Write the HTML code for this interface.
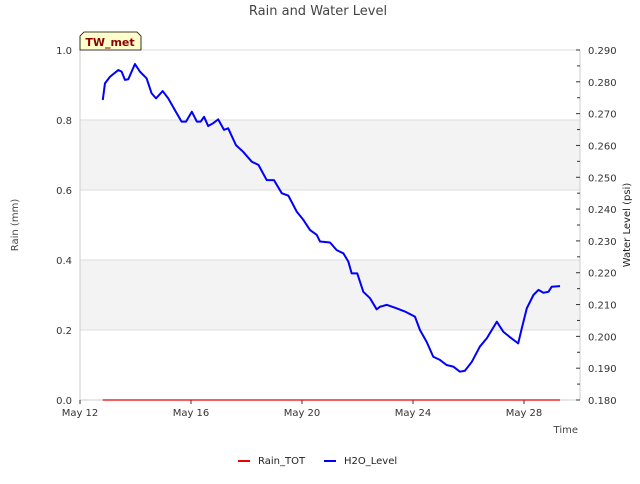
<!DOCTYPE html>
<html><head><meta charset="utf-8"><style>
body{margin:0;background:#fff;font-family:"DejaVu Sans","Liberation Sans",sans-serif}
svg text{font-family:"DejaVu Sans","Liberation Sans",sans-serif}
</style></head><body>
<svg id="chart" width="640" height="480" xmlns="http://www.w3.org/2000/svg">
<rect width="640" height="480" fill="#fff"/>
<text x="318" y="15" font-size="13" fill="#444" text-anchor="middle">Rain and Water Level</text>
<g id="plot"></g>
<g>
<path d="M80,50 L80,36 L84,32 L137,32 L141,36 L141,50 Z" fill="#ffffcc" stroke="#000" stroke-width="0.8"/>
<text x="110" y="46" font-size="11" font-weight="bold" fill="#8b0000" text-anchor="middle">TW_met</text>
</g>
<text x="18" y="225" font-size="10" fill="#444" text-anchor="middle" transform="rotate(-90 18 225)">Rain (mm)</text>
<text x="630" y="225" font-size="10" fill="#222" text-anchor="middle" transform="rotate(-90 630 225)">Water Level (psi)</text>
<text x="578" y="433" font-size="10" fill="#444" text-anchor="end">Time</text>
<g>
<g><line x1="238" y1="461" x2="250" y2="461" stroke="#e00" stroke-width="2"/><text x="258" y="464" font-size="10" fill="#222">Rain_TOT</text></g>
<g><line x1="324" y1="461" x2="336" y2="461" stroke="#00f" stroke-width="2"/><text x="344" y="464" font-size="10" fill="#222">H2O_Level</text></g>
</g>
</svg>
<script>
const days=[12.82,12.90,13.08,13.38,13.50,13.62,13.74,13.98,14.16,14.40,14.58,14.74,14.98,15.18,15.42,15.66,15.82,16.03,16.21,16.35,16.47,16.62,16.80,16.98,17.19,17.34,17.62,17.88,18.19,18.43,18.73,18.99,19.27,19.51,19.81,20.05,20.29,20.53,20.65,21.01,21.25,21.49,21.67,21.79,21.99,22.21,22.45,22.69,22.81,23.05,23.41,23.71,24.07,24.25,24.49,24.73,24.97,25.21,25.45,25.69,25.87,26.12,26.41,26.66,26.84,27.02,27.25,27.50,27.79,27.92,28.10,28.34,28.52,28.70,28.88,29.00,29.30];
const h2o=[0.2743,0.2795,0.2816,0.2837,0.2832,0.2806,0.2808,0.2856,0.2832,0.2811,0.2764,0.2748,0.2771,0.2748,0.2711,0.2675,0.2675,0.2706,0.2675,0.2675,0.2690,0.2661,0.2670,0.2682,0.2649,0.2654,0.2601,0.2580,0.2549,0.2539,0.2491,0.2491,0.2450,0.2442,0.2392,0.2366,0.2334,0.2319,0.2298,0.2295,0.2271,0.2261,0.2235,0.2198,0.2198,0.2140,0.2120,0.2085,0.2093,0.2099,0.2088,0.2078,0.2062,0.2020,0.1983,0.1936,0.1926,0.1910,0.1905,0.1889,0.1892,0.1920,0.1968,0.1994,0.2020,0.2046,0.2015,0.1997,0.1978,0.2025,0.2088,0.2130,0.2146,0.2137,0.2140,0.2156,0.2158];
const rainDays=[12.82,29.30];
const rain=[0,0];
const xTickDays=[12,16,20,24,28];
const xTickLabels=["May 12","May 16","May 20","May 24","May 28"];
const leftTicks=[0,0.2,0.4,0.6,0.8,1.0];
const rightTicks=[0.18,0.19,0.20,0.21,0.22,0.23,0.24,0.25,0.26,0.27,0.28,0.29];

const L=80,R=580,T=50,B=400;
const xS=d=>L+(d-12)*(R-L)/18.018;
const yL=v=>B-v*(B-T);
const yR=v=>B-(v-0.18)/0.11*(B-T);
const NS="http://www.w3.org/2000/svg";
const g=document.getElementById('plot');
function mk(t,a,p){const e=document.createElementNS(NS,t);for(const k in a)e.setAttribute(k,a[k]);(p||g).appendChild(e);return e;}
for(const b of [[0.2,0.4],[0.6,0.8]]){
 const r=mk('rect',{x:L,y:yL(b[1]),width:R-L,height:yL(b[0])-yL(b[1]),fill:'#f3f3f3'});
 
 
}
leftTicks.forEach(v=>{
 const l=mk('line',{x1:L,x2:R,y1:yL(v),y2:yL(v),stroke:'#ddd','stroke-width':1});
 
 
 const t=mk('text',{x:L-8,y:yL(v)+4,'font-size':10,fill:'#333','text-anchor':'end'});
 t.textContent=v.toFixed(1);
 
 
});
mk('line',{x1:L,x2:L,y1:T,y2:B,stroke:'#ccc'});
mk('line',{x1:R,x2:R,y1:T,y2:B,stroke:'#ccc'});
mk('line',{x1:L,x2:R,y1:B,y2:B,stroke:'#ccc'});
rightTicks.forEach((v,i)=>{
 const y=yR(v);
 mk('line',{x1:R-4,x2:R,y1:y,y2:y,stroke:'#333'});
 if(i<rightTicks.length-1){const ym=yR(v+0.005);mk('line',{x1:R-3,x2:R,y1:ym,y2:ym,stroke:'#333'});}
 const t=mk('text',{x:R+8,y:y+4,'font-size':10,fill:'#333'});
 t.textContent=v.toFixed(3);
 
 
});
xTickDays.forEach((d,i)=>{
 const x=xS(d);
 mk('line',{x1:x,x2:x,y1:B,y2:B+4,stroke:'#333'});
 const t=mk('text',{x:x,y:B+16,'font-size':10,fill:'#333','text-anchor':'middle'});
 t.textContent=xTickLabels[i];
 
 
});
const rl=mk('polyline',{points:rainDays.map((d,i)=>xS(d)+','+yL(rain[i])).join(' '),fill:'none',stroke:'#e00','stroke-width':1.2});


const hl=mk('polyline',{points:days.map((d,i)=>xS(d)+','+yR(h2o[i])).join(' '),fill:'none',stroke:'#00f','stroke-width':2,'stroke-linejoin':'round'});


</script>
</body></html>
